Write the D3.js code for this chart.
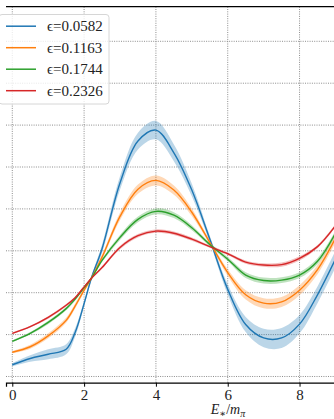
<!DOCTYPE html>
<html>
<head>
<meta charset="utf-8">
<script src="https://cdn.jsdelivr.net/npm/d3@7"></script>
<style>
    body { margin: 0; background: #fff; }
    svg { display: block; }
</style>
</head>
<body>
<div id="chart"></div>
<script>
const energies = [0, 0.5, 1, 1.5, 1.75, 2, 2.2, 2.5, 3, 3.5, 4, 4.5, 5, 5.5, 6, 6.5, 7, 7.5, 8, 8.5, 9];

const labels = ['ϵ=0.0582', 'ϵ=0.1163', 'ϵ=0.1744', 'ϵ=0.2326'];
const colors = ['#1f77b4', '#ff7f0e', '#2ca02c', '#d62728'];

const blue = [0.28, 0.43, 0.53, 0.65, 1.05, 1.74, 2.34, 3.05, 4.62, 5.62, 5.88, 5.34, 4.45, 3.28, 2.08, 1.24, 0.92, 0.92, 1.25, 1.95, 2.8];
const orange = [0.58, 0.71, 0.97, 1.34, 1.68, 2.06, 2.34, 2.85, 3.82, 4.47, 4.68, 4.45, 3.92, 3.2, 2.48, 1.95, 1.75, 1.78, 2.06, 2.55, 3.3];
const green = [0.84, 1.03, 1.29, 1.62, 1.85, 2.12, 2.34, 2.77, 3.32, 3.75, 3.94, 3.85, 3.55, 3.15, 2.8, 2.42, 2.29, 2.3, 2.42, 2.75, 3.42];
const red = [1.03, 1.19, 1.41, 1.7, 1.88, 2.14, 2.34, 2.6, 3.08, 3.36, 3.47, 3.42, 3.28, 3.1, 2.93, 2.73, 2.66, 2.67, 2.82, 3.1, 3.6];

const blueErr = [0.04, 0.08, 0.12, 0.12, 0.1, 0.07, 0.05, 0.1, 0.16, 0.2, 0.22, 0.2, 0.15, 0.08, 0.12, 0.18, 0.22, 0.24, 0.22, 0.2, 0.2];
const orangeErr = [0.03, 0.05, 0.06, 0.06, 0.06, 0.05, 0.04, 0.06, 0.09, 0.11, 0.12, 0.11, 0.09, 0.05, 0.08, 0.11, 0.12, 0.12, 0.12, 0.11, 0.1];
const greenErr = [0.02, 0.03, 0.04, 0.04, 0.04, 0.03, 0.03, 0.04, 0.06, 0.07, 0.07, 0.07, 0.06, 0.04, 0.05, 0.07, 0.07, 0.07, 0.07, 0.07, 0.06];
const redErr = [0.02, 0.02, 0.03, 0.03, 0.03, 0.02, 0.02, 0.03, 0.04, 0.04, 0.04, 0.04, 0.04, 0.03, 0.03, 0.04, 0.04, 0.05, 0.05, 0.04, 0.04];

const xTicks = [0, 2, 4, 6, 8];
const yTicks = [0, 1, 2, 3, 4, 5, 6, 7, 8];

const series = [blue, orange, green, red].map((vals, i) => ({
    label: labels[i],
    color: colors[i],
    points: energies.map((e, j) => ({ x: e, y: vals[j], err: [blueErr, orangeErr, greenErr, redErr][i][j] }))
}));

const width = 334;
const height = 419;
const plot = { left: 6, right: 450, top: 6.7, bottom: 382.7 };

const svg = d3
    .select('#chart')
    .append('svg')
    .attr('width', width)
    .attr('height', height)
    .style('font-family', '"Liberation Serif", "DejaVu Serif", serif');

svg.append('defs')
    .append('clipPath')
    .attr('id', 'plot-clip')
    .append('rect')
    .attr('x', plot.left)
    .attr('y', plot.top)
    .attr('width', plot.right - plot.left)
    .attr('height', plot.bottom - plot.top);

const x = d3
    .scaleLinear()
    .domain([-0.175, 12.19])
    .range([plot.left, plot.right]);

const y = d3
    .scaleLinear()
    .domain([-0.148, 8.826])
    .range([plot.bottom, plot.top]);

// grid
const grid = svg.append('g')
    .attr('stroke', '#808080')
    .attr('stroke-width', 0.9)
    .attr('stroke-dasharray', '1,1.3');

grid.selectAll('.vgrid')
    .data(xTicks)
    .join('line')
    .attr('class', 'vgrid')
    .attr('x1', d => x(d))
    .attr('x2', d => x(d))
    .attr('y1', plot.top)
    .attr('y2', plot.bottom);

grid.selectAll('.hgrid')
    .data(yTicks)
    .join('line')
    .attr('class', 'hgrid')
    .attr('x1', plot.left)
    .attr('x2', plot.right)
    .attr('y1', d => y(d))
    .attr('y2', d => y(d));

// bands and curves
const area = d3.area()
    .x(d => x(d.x))
    .y0(d => y(d.y - d.err))
    .y1(d => y(d.y + d.err))
    .curve(d3.curveCatmullRom);

const line = d3.line()
    .x(d => x(d.x))
    .y(d => y(d.y))
    .curve(d3.curveCatmullRom);

const curves = svg.append('g').attr('clip-path', 'url(#plot-clip)');

curves.selectAll('.band')
    .data(series)
    .join('path')
    .attr('class', 'band')
    .attr('fill', d => d.color)
    .attr('fill-opacity', 0.3)
    .attr('d', d => area(d.points));

curves.selectAll('.curve')
    .data(series)
    .join('path')
    .attr('class', 'curve')
    .attr('fill', 'none')
    .attr('stroke', d => d.color)
    .attr('stroke-width', 1.4)
    .attr('d', d => line(d.points));

// axes
const xAxis = svg.append('g')
    .attr('transform', `translate(0, ${plot.bottom})`)
    .call(d3.axisBottom(x).tickValues(xTicks).tickFormat(d3.format('d')).tickSize(4).tickPadding(3));

xAxis.select('.domain').attr('stroke', '#000').attr('stroke-width', 1.2);
xAxis.selectAll('.tick line').attr('stroke-width', 1);
xAxis.selectAll('.tick text')
    .attr('font-size', 15)
    .attr('fill', '#222')
    .style('font-family', '"Liberation Serif", "DejaVu Serif", serif');

svg.append('line')
    .attr('x1', plot.left)
    .attr('x2', plot.right)
    .attr('y1', plot.top)
    .attr('y2', plot.top)
    .attr('stroke', '#000')
    .attr('stroke-width', 1.2);

// x label  E*/mπ
const xLabel = svg.append('text')
    .attr('x', 228)
    .attr('y', 414)
    .attr('text-anchor', 'middle')
    .attr('font-size', 14)
    .attr('fill', '#222');

xLabel.append('tspan').attr('font-style', 'italic').text('E');
xLabel.append('tspan').attr('font-size', 10).attr('dy', 3).text('∗');
xLabel.append('tspan').attr('dy', -3).text('/');
xLabel.append('tspan').attr('font-style', 'italic').text('m');
xLabel.append('tspan').attr('font-size', 10).attr('font-style', 'italic').attr('dy', 3).text('π');

// legend
const legend = svg.append('g');

legend.append('rect')
    .attr('x', -1)
    .attr('y', 14.5)
    .attr('width', 110)
    .attr('height', 89.5)
    .attr('rx', 3)
    .attr('fill', '#fff')
    .attr('fill-opacity', 0.8)
    .attr('stroke', '#d6d6d6')
    .attr('stroke-width', 1);

const rows = legend.selectAll('.row')
    .data(series)
    .join('g')
    .attr('class', 'row')
    .attr('transform', (d, i) => `translate(0, ${26.2 + i * 21.5})`);

rows.append('line')
    .attr('x1', 6)
    .attr('x2', 36)
    .attr('stroke', d => d.color)
    .attr('stroke-width', 1.5);

rows.append('text')
    .attr('x', 47)
    .attr('y', 5)
    .attr('font-size', 15)
    .attr('fill', '#222')
    .text(d => d.label);
</script>
</body>
</html>
